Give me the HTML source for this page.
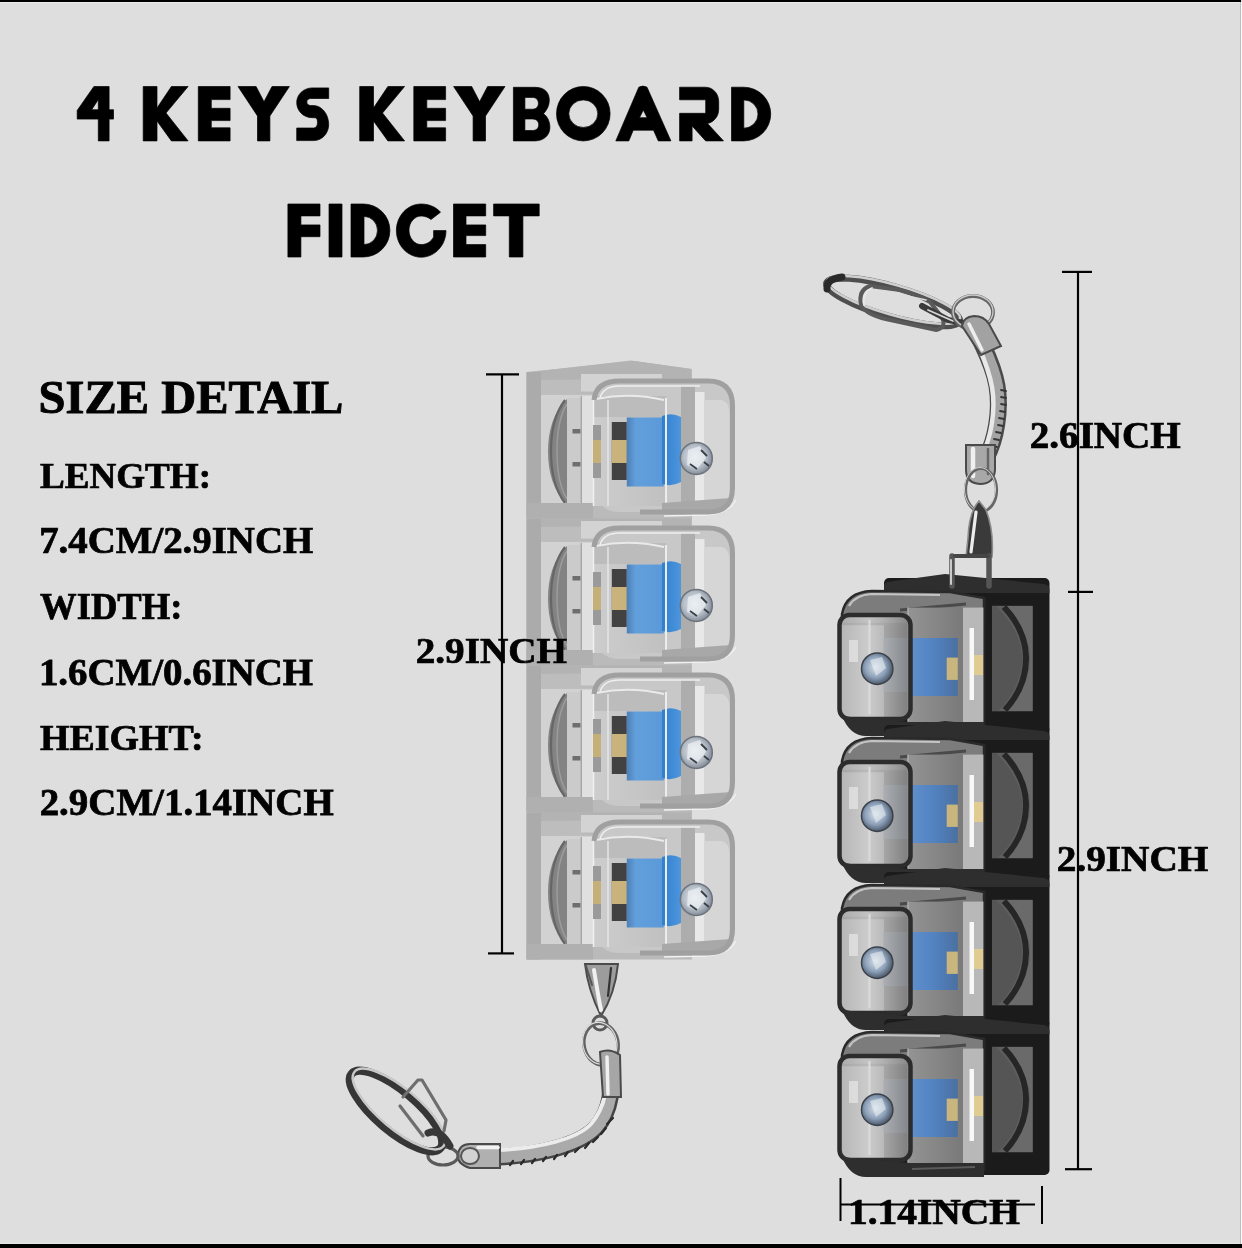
<!DOCTYPE html>
<html><head><meta charset="utf-8">
<style>
html,body{margin:0;padding:0;}
body{width:1242px;height:1248px;background:#dedede;position:relative;overflow:hidden;}
svg{position:absolute;left:0;top:0;}
.t{font-family:"Liberation Serif",serif;font-weight:bold;fill:#000;}
</style></head><body>
<svg width="1242" height="1248" viewBox="0 0 1242 1248">
<defs>
<linearGradient id="gBlueL" x1="0" y1="0" x2="1" y2="0">
 <stop offset="0" stop-color="#4d80b8"/><stop offset="0.25" stop-color="#62a0dc"/><stop offset="1" stop-color="#5a98d8"/>
</linearGradient>
<linearGradient id="gStemL" x1="0" y1="0" x2="1" y2="0">
 <stop offset="0" stop-color="#2f7fd0"/><stop offset="1" stop-color="#4f96dc"/>
</linearGradient>
<linearGradient id="gBlueR" x1="0" y1="0" x2="1" y2="0">
 <stop offset="0" stop-color="#5f90cc"/><stop offset="0.5" stop-color="#5282c0"/><stop offset="1" stop-color="#4a70a0"/>
</linearGradient>
<radialGradient id="gSphere" cx="0.45" cy="0.45" r="0.6">
 <stop offset="0" stop-color="#e4e8ec"/><stop offset="0.6" stop-color="#b4bcc6"/><stop offset="1" stop-color="#7a8290"/>
</radialGradient>
<radialGradient id="gSphereR" cx="0.45" cy="0.45" r="0.6">
 <stop offset="0" stop-color="#d8e0e8"/><stop offset="0.55" stop-color="#8ea2ba"/><stop offset="1" stop-color="#3e4a5a"/>
</radialGradient>
<linearGradient id="gWinR" x1="0" y1="0" x2="1" y2="0">
 <stop offset="0" stop-color="#b0b0b0"/><stop offset="0.4" stop-color="#cacaca"/><stop offset="0.6" stop-color="#b8b8b8"/><stop offset="1" stop-color="#868686"/>
</linearGradient>
<linearGradient id="gPanR" x1="0" y1="0" x2="1" y2="0">
 <stop offset="0" stop-color="#5e5e5e"/><stop offset="1" stop-color="#4a4a4a"/>
</linearGradient>
<linearGradient id="gHouseR" x1="0" y1="0" x2="1" y2="0">
 <stop offset="0" stop-color="#949494"/><stop offset="0.7" stop-color="#7a7a7a"/><stop offset="1" stop-color="#888888"/>
</linearGradient>
<linearGradient id="gHouseL" x1="0" y1="0" x2="1" y2="0">
 <stop offset="0" stop-color="#cdcdcd"/><stop offset="1" stop-color="#c0c0c0"/>
</linearGradient>

<!-- LEFT KEY (clear), key 1 coordinates -->
<g id="keyL">
 <!-- back body -->
 <path d="M526.5,372 L634,361 L692,369 L692,518.5 L526.5,518.5 Z" fill="#bababa"/>
 <path d="M527,372.5 L631,360.5 L691,369 L691,378 L527,380 Z" fill="#b3b3b3"/>
 <rect x="541" y="380" width="40" height="14" fill="#bdbdbd"/>
 <rect x="581" y="374" width="81" height="17.5" fill="#d3d3d3"/>
 <rect x="526.5" y="372" width="14.5" height="146.5" fill="#ababab"/>
 <rect x="541" y="394.8" width="52" height="108.2" fill="#d2d2d2"/>
 <path d="M567,399 C553,412 548,432 548,451 C548,472 553,491 567,504 Z" fill="#838383"/>
 <path d="M565,400 C555,413 551,432 551,451 C551,472 555,490 565,503" fill="none" stroke="#666666" stroke-width="2.2"/>
 <path d="M567,404 C560,415 557,432 557,451 C557,470 560,488 567,499" fill="none" stroke="#9c9c9c" stroke-width="1.5"/>
 <rect x="567" y="398" width="14.3" height="106" fill="#cbcbcb"/>
 <rect x="572.5" y="429" width="8" height="4.5" fill="#6e6e6e"/>
 <rect x="572.5" y="462" width="8" height="4.5" fill="#6e6e6e"/>
 <rect x="581.3" y="396" width="11.7" height="110" fill="#e0e0e0"/>
 <line x1="581.3" y1="396" x2="581.3" y2="506" stroke="#a0a0a0" stroke-width="1.2"/>
 <rect x="526.5" y="503" width="66.5" height="15.5" fill="#b0b0b0"/>
 <!-- cap outer -->
 <rect x="594" y="381" width="138.5" height="131" rx="24" fill="#c8c8c8"/>
 <!-- housing -->
 <rect x="593" y="396" width="73.3" height="110" fill="url(#gHouseL)"/>
 <path d="M593,396 L666,396 L666,417 L593,417 Z" fill="#bcbcbc"/>
 <line x1="593.5" y1="396" x2="593.5" y2="506" stroke="#f0f0f0" stroke-width="1.5"/>
 <line x1="608" y1="400" x2="608" y2="506" stroke="#e6e6e6" stroke-width="1.5"/>
 <!-- internals -->
 <rect x="593" y="425" width="8" height="53" fill="#9a9a9a"/>
 <rect x="593" y="440" width="8" height="23" fill="#c6b07a"/>
 <rect x="611.8" y="422" width="15" height="58" fill="#424242"/>
 <rect x="611.8" y="440" width="15" height="23" fill="#c9b27c"/>
 <rect x="626.8" y="417.5" width="37" height="69" fill="url(#gBlueL)"/>
 <path d="M662,416 Q672,412 681,417 L681,482 Q672,487 662,484 Z" fill="url(#gStemL)"/>
 <line x1="666" y1="398" x2="666" y2="504" stroke="#ececec" stroke-width="2"/>
 <path d="M596,399 Q630,392 664,400" fill="none" stroke="#eaeaea" stroke-width="2"/>
 <rect x="681" y="386" width="14" height="122" fill="#adadad"/>
 <rect x="695" y="392" width="9.5" height="116" fill="#e8e8e8"/>
 <path d="M704.5,400 L722,400 Q729.6,402 729.6,415 L729.6,500 Q729.6,507 722,507 L704.5,507 Z" fill="#d6d6d6"/>
 
 <path d="M662,503 L731,498 Q729,511 706,511 L662,511 Z" fill="#a8a8a8"/>
 <path d="M664,516 L706,515 Q728,514 736,500" fill="none" stroke="#f2f2f2" stroke-width="1.5"/>
 <circle cx="696.3" cy="458.4" r="16" fill="url(#gSphere)" stroke="#6c737c" stroke-width="1.5"/>
 <path d="M688,450 L700,446 L706,458 L697,469 L687,465 Z" fill="#eef2f6" opacity="0.7"/>
 <path d="M701,450 L707,456 M690,464 L697,469 M704,462 L709,466" stroke="#3a3f46" stroke-width="1.8"/>
 <path d="M594,400 Q596,381 620,381 L708,381 Q732.5,381 732.5,406 L732.5,488 Q732.5,512 708,512 L640,512" fill="none" stroke="#a0a0a0" stroke-width="5"/>
 <path d="M600,398 Q603,386 620,386 L700,386" fill="none" stroke="#eeeeee" stroke-width="1.6"/>
</g>

<!-- RIGHT KEY (black), key 1 coordinates -->
<g id="keyR">
 <rect x="884" y="578" width="165.5" height="156" rx="5" fill="#1b1b1b"/>
 <path d="M884,586 Q884,582 889,581.7 L945,574 L1044,584 Q1049.5,585 1049.5,590 L1049.5,593 L884,593 Z" fill="#2e2e2e"/>
 <rect x="992" y="605.8" width="40.6" height="105.5" fill="#5e5e5e"/>
 <path d="M1004,606 C1020,622 1030,640 1030,658 C1030,678 1020,697 1006,711 L1032.6,711 L1032.6,606 Z" fill="#6a6a6a"/>
 <path d="M996,606 C1012,622 1022,640 1022,658 C1022,678 1012,697 998,711 L992,711 L992,606 Z" fill="#555555"/>
 <path d="M1004,607 C1018,622 1026,640 1026,658 C1026,678 1018,696 1005,710" fill="none" stroke="#262626" stroke-width="6"/>
 <!-- cap top -->
 <path d="M842,614 Q846,592 872,591 L950,592 L984,598 L984,624 L842,624 Z" fill="#7c7c7c" stroke="#2a2a2a" stroke-width="2.5"/>
 <path d="M849,606 Q855,595 872,594 L940,595" fill="none" stroke="#c4c4c4" stroke-width="2.2"/>
 <path d="M900,610 L966,604" fill="none" stroke="#4a4a4a" stroke-width="3"/>
 <!-- housing -->
 <rect x="907.8" y="607.6" width="75.9" height="114.8" fill="url(#gHouseR)"/>
 <rect x="883" y="638" width="28" height="54" fill="#5a80b4" opacity="0.75"/>
 <rect x="910.8" y="638" width="47" height="58" fill="url(#gBlueR)"/>
 <rect x="963" y="607.6" width="20.7" height="114.8" fill="#b8b8b8"/>
 <rect x="969.5" y="628" width="4.5" height="72" fill="#f8f8f8"/>
 <rect x="946.7" y="657.6" width="11.1" height="22.3" fill="#c9b57e"/>
 <rect x="974" y="655" width="9" height="20" fill="#e0cc90"/>
 <line x1="908" y1="607.6" x2="908" y2="722.4" stroke="#b8b8b8" stroke-width="1.2"/>
 <line x1="984.5" y1="598" x2="984.5" y2="730" stroke="#262626" stroke-width="2"/>
 <!-- window -->
 <rect x="839.5" y="615" width="71" height="104" rx="10" fill="url(#gWinR)" fill-opacity="0.9" stroke="#2c2c2c" stroke-width="4.5"/>
 <rect x="868.5" y="620" width="2" height="94" fill="#dcdcdc"/>
 <rect x="849" y="640" width="9" height="22" fill="#e2e2e2" opacity="0.8"/>
 <circle cx="877.2" cy="668.7" r="15.7" fill="url(#gSphereR)" stroke="#3c424a" stroke-width="1.5"/>
 <path d="M870,660 L882,657 L886,668 L876,676 Z" fill="#e6ecf2" opacity="0.6"/>
 <!-- cap bottom -->
 <path d="M842,716 Q850,736 866,736 L984,736 L984,722 L910,722 L860,718 Z" fill="#2e2e2e"/>
 <path d="M912,728 L975,726" stroke="#5a5a5a" stroke-width="2"/>
</g>
</defs>

<g id="leftkb">
<use href="#keyL" transform="translate(0,441)"/>
<use href="#keyL" transform="translate(0,294)"/>
<use href="#keyL" transform="translate(0,147)"/>
<use href="#keyL"/>
</g>

<g id="rightkb">
<use href="#keyR"/>
<use href="#keyR" transform="translate(0,147)"/>
<use href="#keyR" transform="translate(0,294)"/>
<use href="#keyR" transform="translate(0,441)"/>
</g>

<g id="chains" fill="none" stroke-linecap="round">
<!-- RIGHT keychain -->
<g transform="translate(893,302) rotate(16)">
 <ellipse rx="69" ry="15" stroke="#4e4e4e" stroke-width="7"/>
 <ellipse rx="69" ry="15" stroke="#cfcfcf" stroke-width="2.5" transform="translate(0,-2.2)"/>
</g>
<path d="M827,289 Q826,279 842,277" stroke="#2a2a2a" stroke-width="7"/>
<!-- snap hook -->
<path d="M870,286 Q858,290 861,305 Q866,316 895,321 L936,330 Q948,327 941,316 L930,302 Q918,295 900,290 Z" stroke="#5a5a5a" stroke-width="4"/>
<path d="M872,288 Q862,293 864,305" stroke="#e8e8e8" stroke-width="1.8"/>
<path d="M884,291 L926,300" stroke="#dddddd" stroke-width="1.6"/>
<path d="M922,306 L948,320 L964,323" stroke="#3a3a3a" stroke-width="6"/>
<path d="M928,310 L953,321" stroke="#d6d6d6" stroke-width="1.8"/>
<!-- small ring -->
<ellipse cx="973" cy="312.5" rx="20" ry="16.5" stroke="#666666" stroke-width="3.8"/>
<ellipse cx="973" cy="311.5" rx="20" ry="16.5" stroke="#cccccc" stroke-width="1.3"/>
<!-- snake chain -->
<path d="M976,330 C982,346 993,362 997,386 C1001,410 996,440 986,458" stroke="#4a4a4a" stroke-width="17"/>
<path d="M976,330 C982,346 993,362 997,386 C1001,410 996,440 986,458" stroke="#a4a4a4" stroke-width="12"/>
<path d="M973,332 C978,347 988,364 992,387 C996,410 991,438 982,455" stroke="#e8e8e8" stroke-width="4.5"/>
<path d="M1001,390 L1006,391 M1001,397 L1006,398 M1001,404 L1006,405 M1000,411 L1005,412 M999,418 L1004,419 M998,425 L1003,426 M996,432 L1001,433 M994,439 L999,440 M992,446 L997,447" stroke="#363636" stroke-width="1.8"/>
<!-- top cap -->
<path d="M962,326 Q963,317 974,316 Q984,316 989,324 L1001,346 L981,355 Z" fill="#a2a2a2" stroke="#4a4a4a" stroke-width="2"/>
<path d="M969,324 L982,350" stroke="#eeeeee" stroke-width="3.5"/>
<!-- bottom cap -->
<path d="M966,445 L995,445 L995,470 Q994,484 980,484 Q966,483 966,470 Z" fill="#a8a8a8" stroke="#4a4a4a" stroke-width="2"/>
<path d="M973,449 L973,476" stroke="#f0f0f0" stroke-width="4.5"/>
<path d="M988,449 L988,474" stroke="#666" stroke-width="2.5"/>
<!-- ring 2 -->
<ellipse cx="981" cy="490" rx="15.5" ry="21.5" stroke="#666666" stroke-width="3.2"/>
<ellipse cx="980" cy="489" rx="15.5" ry="21.5" stroke="#d0d0d0" stroke-width="1"/>
<!-- clasp -->
<path d="M979,501 Q969,512 968,538 L966,557 L992,557 Q994,530 986,510 Z" fill="#3a3a3a" stroke="#8a8a8a" stroke-width="1.6"/>
<path d="M976,512 L971,552" stroke="#ececec" stroke-width="3.2"/>
<path d="M952,556 L952,586 M989,556 L989,586" stroke="#555555" stroke-width="5.5"/>
<path d="M951,560 L951,584" stroke="#d8d8d8" stroke-width="1.8"/>
<path d="M955,556 L988,556" stroke="#454545" stroke-width="4"/>

<!-- LEFT keychain -->
<path d="M585,964 L618,964 Q615,994 601,1016 Q588,990 585,964 Z" fill="#9c9c9c" stroke="#4a4a4a" stroke-width="2"/>
<path d="M594,970 Q598,995 601,1010" stroke="#f0f0f0" stroke-width="4"/>
<path d="M611,968 L608,996" stroke="#333" stroke-width="2.2"/>
<path d="M586,966 L592,985" stroke="#555" stroke-width="2"/>
<circle cx="600" cy="1023" r="7" fill="none" stroke="#5a5a5a" stroke-width="3"/>
<!-- small ring -->
<g transform="translate(601,1044) rotate(-12)">
<ellipse rx="17" ry="21" stroke="#636363" stroke-width="3.6"/>
<ellipse rx="17" ry="21" stroke="#dadada" stroke-width="1.2" transform="translate(-1,-1)"/>
</g>
<!-- chain -->
<path d="M610,1062 C613,1086 612,1110 596,1128 C580,1145 540,1155 499,1157" stroke="#454545" stroke-width="17"/>
<path d="M610,1062 C613,1086 612,1110 596,1128 C580,1145 540,1155 499,1157" stroke="#aaaaaa" stroke-width="12"/>
<path d="M606,1062 C608,1086 606,1106 591,1124 C577,1139 540,1148 499,1150" stroke="#ececec" stroke-width="4"/>
<path d="M613,1118 L607,1124 M606,1128 L601,1134 M598,1137 L593,1142 M589,1143 L585,1148 M579,1148 L575,1152 M568,1152 L565,1156 M557,1155 L554,1159 M546,1157 L543,1161 M535,1159 L532,1163 M524,1160 L521,1164 M513,1161 L510,1165" stroke="#2a2a2a" stroke-width="2.2"/>
<!-- top cap -->
<path d="M600,1052 Q610,1048 620,1055 L621,1097 L603,1097 Z" fill="#a6a6a6" stroke="#4a4a4a" stroke-width="2"/>
<path d="M607,1057 L608,1094" stroke="#f0f0f0" stroke-width="3.5"/>
<!-- end cap -->
<path d="M500,1144 L500,1168 L470,1168 Q457,1164 458,1155 Q459,1144 470,1144 Z" fill="#b0b0b0" stroke="#4a4a4a" stroke-width="2"/>
<path d="M478,1147.5 L498,1147.5" stroke="#f2f2f2" stroke-width="3.5"/>
<ellipse cx="470" cy="1156" rx="9" ry="8" fill="#d2d2d2" stroke="#555" stroke-width="2"/>
<!-- small link -->
<ellipse cx="443" cy="1156" rx="15" ry="9" stroke="#5a5a5a" stroke-width="3.2"/>
<!-- split ring -->
<g transform="translate(396,1111) rotate(40)">
 <ellipse rx="58" ry="20" stroke="#363636" stroke-width="8"/>
 <ellipse rx="58" ry="20" stroke="#c8c8c8" stroke-width="2.5" transform="translate(1,-3.5)"/>
</g>
<!-- carabiner wire -->
<path d="M403,1097 L418,1080 L422,1080 L446,1120 L444,1131" stroke="#6e6e6e" stroke-width="3.2" stroke-linejoin="round"/>
<path d="M400,1106 L423,1136" stroke="#6e6e6e" stroke-width="3.2"/>
<path d="M428,1133 Q440,1128 450,1146" stroke="#383838" stroke-width="7"/>
</g>

<g id="title" fill="#000" fill-rule="evenodd" stroke="#000" stroke-width="0.7" stroke-linejoin="round">
<path d="M93.9,86.5 L109.1,86.5 L109.1,109.7 L113.5,109.7 L113.5,119.1 L109.1,119.1 L109.1,140.9 L98.3,140.9 L98.3,119.1 L77.2,119.1 L77.2,110.4 Z M91.7,109.7 L98.3,109.7 L98.3,99.6 Z"/>
<path id="K1" d="M143.2,86.5 L157,86.5 L157,108 L171.4,86.5 L188.1,86.5 L166,113 L188.1,140.9 L171.4,140.9 L157,121 L157,140.9 L143.2,140.9 Z"/>
<path id="E1" d="M198.3,86.5 L230.1,86.5 L230.1,99.6 L211.3,99.6 L211.3,108.3 L230.1,108.3 L230.1,120.6 L211.3,120.6 L211.3,127.8 L230.1,127.8 L230.1,140.9 L198.3,140.9 Z"/>
<path id="Y1" d="M238,86.5 L256.1,86.5 L264,101.7 L272,86.5 L289.4,86.5 L269.9,116 L269.9,140.9 L257.5,140.9 L257.5,116 Z"/>
<path d="M328.7,87.9 L312.4,87.9 C303.5,87.9 296.7,94.5 296.7,102.5 C296.7,111 303.5,117.7 312.4,117.7 L315,117.7 C317,117.7 317.5,120 317.5,122.7 C317.5,125.8 316,128 313.5,128 L296.7,128 L296.7,140.6 L313.5,140.6 C322.5,140.6 328.7,133 328.7,124.5 C328.7,114 321.5,105.5 313.5,105.5 L310.5,105.5 C308.5,105.5 306.8,104 306.8,102 C306.8,100 308.5,98.5 310.5,98.5 L328.7,98.5 Z"/>
<use href="#K1" transform="translate(216.5,0)"/>
<use href="#E1" transform="translate(215.5,0)"/>
<use href="#Y1" transform="translate(215.6,0)"/>
<path d="M513.4,87.3 L535,87.3 C545,87.3 549.3,93 549.3,100.2 C549.3,106 546.5,110.5 543.5,113.7 C547,116 549.9,121 549.9,127.3 C549.9,135 544,140.9 535,140.9 L513.4,140.9 Z M524.9,97.4 L532.5,97.4 C536.5,97.4 538.4,100 538.4,103.3 C538.4,106.5 536.5,109.2 532.5,109.2 L524.9,109.2 Z M524.9,119 L532.5,119 C536.8,119 538.7,121.8 538.7,124.75 C538.7,127.8 536.8,130.5 532.5,130.5 L524.9,130.5 Z"/>
<path d="M556.5,113.7 A26.8,27.2 0 1 0 610.1,113.7 A26.8,27.2 0 1 0 556.5,113.7 Z M568.8,113.7 A14.5,13.75 0 1 0 597.8,113.7 A14.5,13.75 0 1 0 568.8,113.7 Z"/>
<path d="M638.8,87.2 Q642.9,85 647,87.2 L670.9,140.9 L658.3,140.9 L653.5,130.2 L633.2,130.2 L628.8,140.9 L615.8,140.9 Z M643.3,110 L647.2,117.7 L639.5,117.7 Z"/>
<path d="M679.6,87.2 L705,87.2 C713,87.2 718.7,93.5 718.7,101.5 L718.7,109 C718.7,116.5 714,122 707.5,123.5 L723.5,140.9 L705.7,140.9 L692.1,126 L692.1,140.9 L679.6,140.9 L679.6,113.3 L705.7,113.3 L705.7,99.8 L679.6,99.8 Z"/>
<path d="M731.5,87.2 L743.7,87.2 A27,26.85 0 0 1 743.7,140.9 L731.5,140.9 Z M743.8,99.9 A14.2,14.15 0 0 1 743.8,128.2 Z"/>
<!-- FIDGET -->
<path d="M287.9,204 L320,204 L320,215.9 L300.9,215.9 L300.9,224.9 L320,224.9 L320,236.7 L300.9,236.7 L300.9,257 L287.9,257 Z"/>
<path d="M329,204 L342,204 L342,257 L329,257 Z"/>
<path d="M351,204 L363.4,204 A26.5,26.5 0 0 1 363.4,257 L351,257 Z M364,216.4 A13.5,14.1 0 0 1 364,244.6 Z"/>
<path d="M440.5,212.2 C436,207 429,204 421.2,204 C407.5,204 396.4,215.9 396.4,230.6 C396.4,245.3 407.5,257.2 421.2,257.2 C434.9,257.2 446,245.3 446,230.6 L433.6,230.6 L433.6,237 C431.5,241.5 426.5,244.6 421.2,244.6 C414.5,244.6 409,238.2 409,230.3 C409,222.4 414.5,216 421.2,216 C425,216 428.5,217.5 431,219.5 Z"/>
<path d="M453.5,204 L485.7,204 L485.7,215.9 L466,215.9 L466,224.9 L485.7,224.9 L485.7,235.6 L466,235.6 L466,244.6 L485.7,244.6 L485.7,257 L453.5,257 Z"/>
<path d="M493.6,204 L539.2,204 L539.2,215.9 L522.9,215.9 L522.9,257 L509.3,257 L509.3,215.9 L493.6,215.9 Z"/>
</g>

<g id="texts" opacity="0.995">
<text class="t" font-size="200" stroke="#000" stroke-width="4" transform="matrix(0.24232 0 0 0.23696 38.62 413.35)">SIZE DETAIL</text>
<text class="t" font-size="200" stroke="#000" stroke-width="4" transform="matrix(0.18552 0 0 0.17698 39.91 488.22)">LENGTH:</text>
<text class="t" font-size="200" stroke="#000" stroke-width="4" transform="matrix(0.19422 0 0 0.18561 39.15 553.37)">7.4CM/2.9INCH</text>
<text class="t" font-size="200" stroke="#000" stroke-width="4" transform="matrix(0.18292 0 0 0.18696 40.12 619.07)">WIDTH:</text>
<text class="t" font-size="200" stroke="#000" stroke-width="4" transform="matrix(0.19441 0 0 0.18786 38.88 684.76)">1.6CM/0.6INCH</text>
<text class="t" font-size="200" stroke="#000" stroke-width="4" transform="matrix(0.18948 0 0 0.18345 40.11 749.58)">HEIGHT:</text>
<text class="t" font-size="200" stroke="#000" stroke-width="4" transform="matrix(0.19468 0 0 0.18921 39.63 814.75)">2.9CM/1.14INCH</text>
</g>

<g id="dims" opacity="0.995">
<text class="t" font-size="200" stroke="#000" stroke-width="4" transform="matrix(0.19582 0 0 0.18201 415.73 662.89)">2.9INCH</text>
<text class="t" font-size="200" stroke="#000" stroke-width="4" transform="matrix(0.19569 0 0 0.18561 1029.73 447.87)">2.6INCH</text>
<text class="t" font-size="200" stroke="#000" stroke-width="4" transform="matrix(0.19608 0 0 0.18417 1056.82 870.68)">2.9INCH</text>
<text class="t" font-size="200" stroke="#000" stroke-width="4" transform="matrix(0.19732 0 0 0.18273 847.94 1224.09)">1.14INCH</text>
<g stroke="#000" stroke-width="2.2" fill="none">
<line x1="502" y1="374" x2="502" y2="954"/>
<line x1="486" y1="374.3" x2="519" y2="374.3"/>
<line x1="488" y1="953.4" x2="514" y2="953.4"/>
<line x1="1078" y1="271" x2="1078" y2="1170"/>
<line x1="1062" y1="271.9" x2="1092" y2="271.9"/>
<line x1="1068" y1="591.9" x2="1093" y2="591.9"/>
<line x1="1065" y1="1169.2" x2="1092" y2="1169.2"/>
<line x1="840.5" y1="1178" x2="840.5" y2="1221" stroke-width="2"/>
<line x1="1042" y1="1186" x2="1042" y2="1224" stroke-width="2"/>
<line x1="840" y1="1204.6" x2="1035" y2="1204.6" stroke-width="2"/>
</g>
</g>


<rect x="0" y="0" width="1241" height="2" fill="#000"/>
<rect x="0" y="2" width="1240" height="1" fill="#ececec"/>
<rect x="0" y="1243" width="1240" height="1" fill="#e6e6e6"/>
<rect x="0" y="1244" width="1242" height="4" fill="#000"/>
<rect x="1240" y="2" width="1" height="1242" fill="#bdbdbd"/>
<rect x="1241" y="2" width="1" height="1242" fill="#fafafa"/>
</svg>
</body></html>
